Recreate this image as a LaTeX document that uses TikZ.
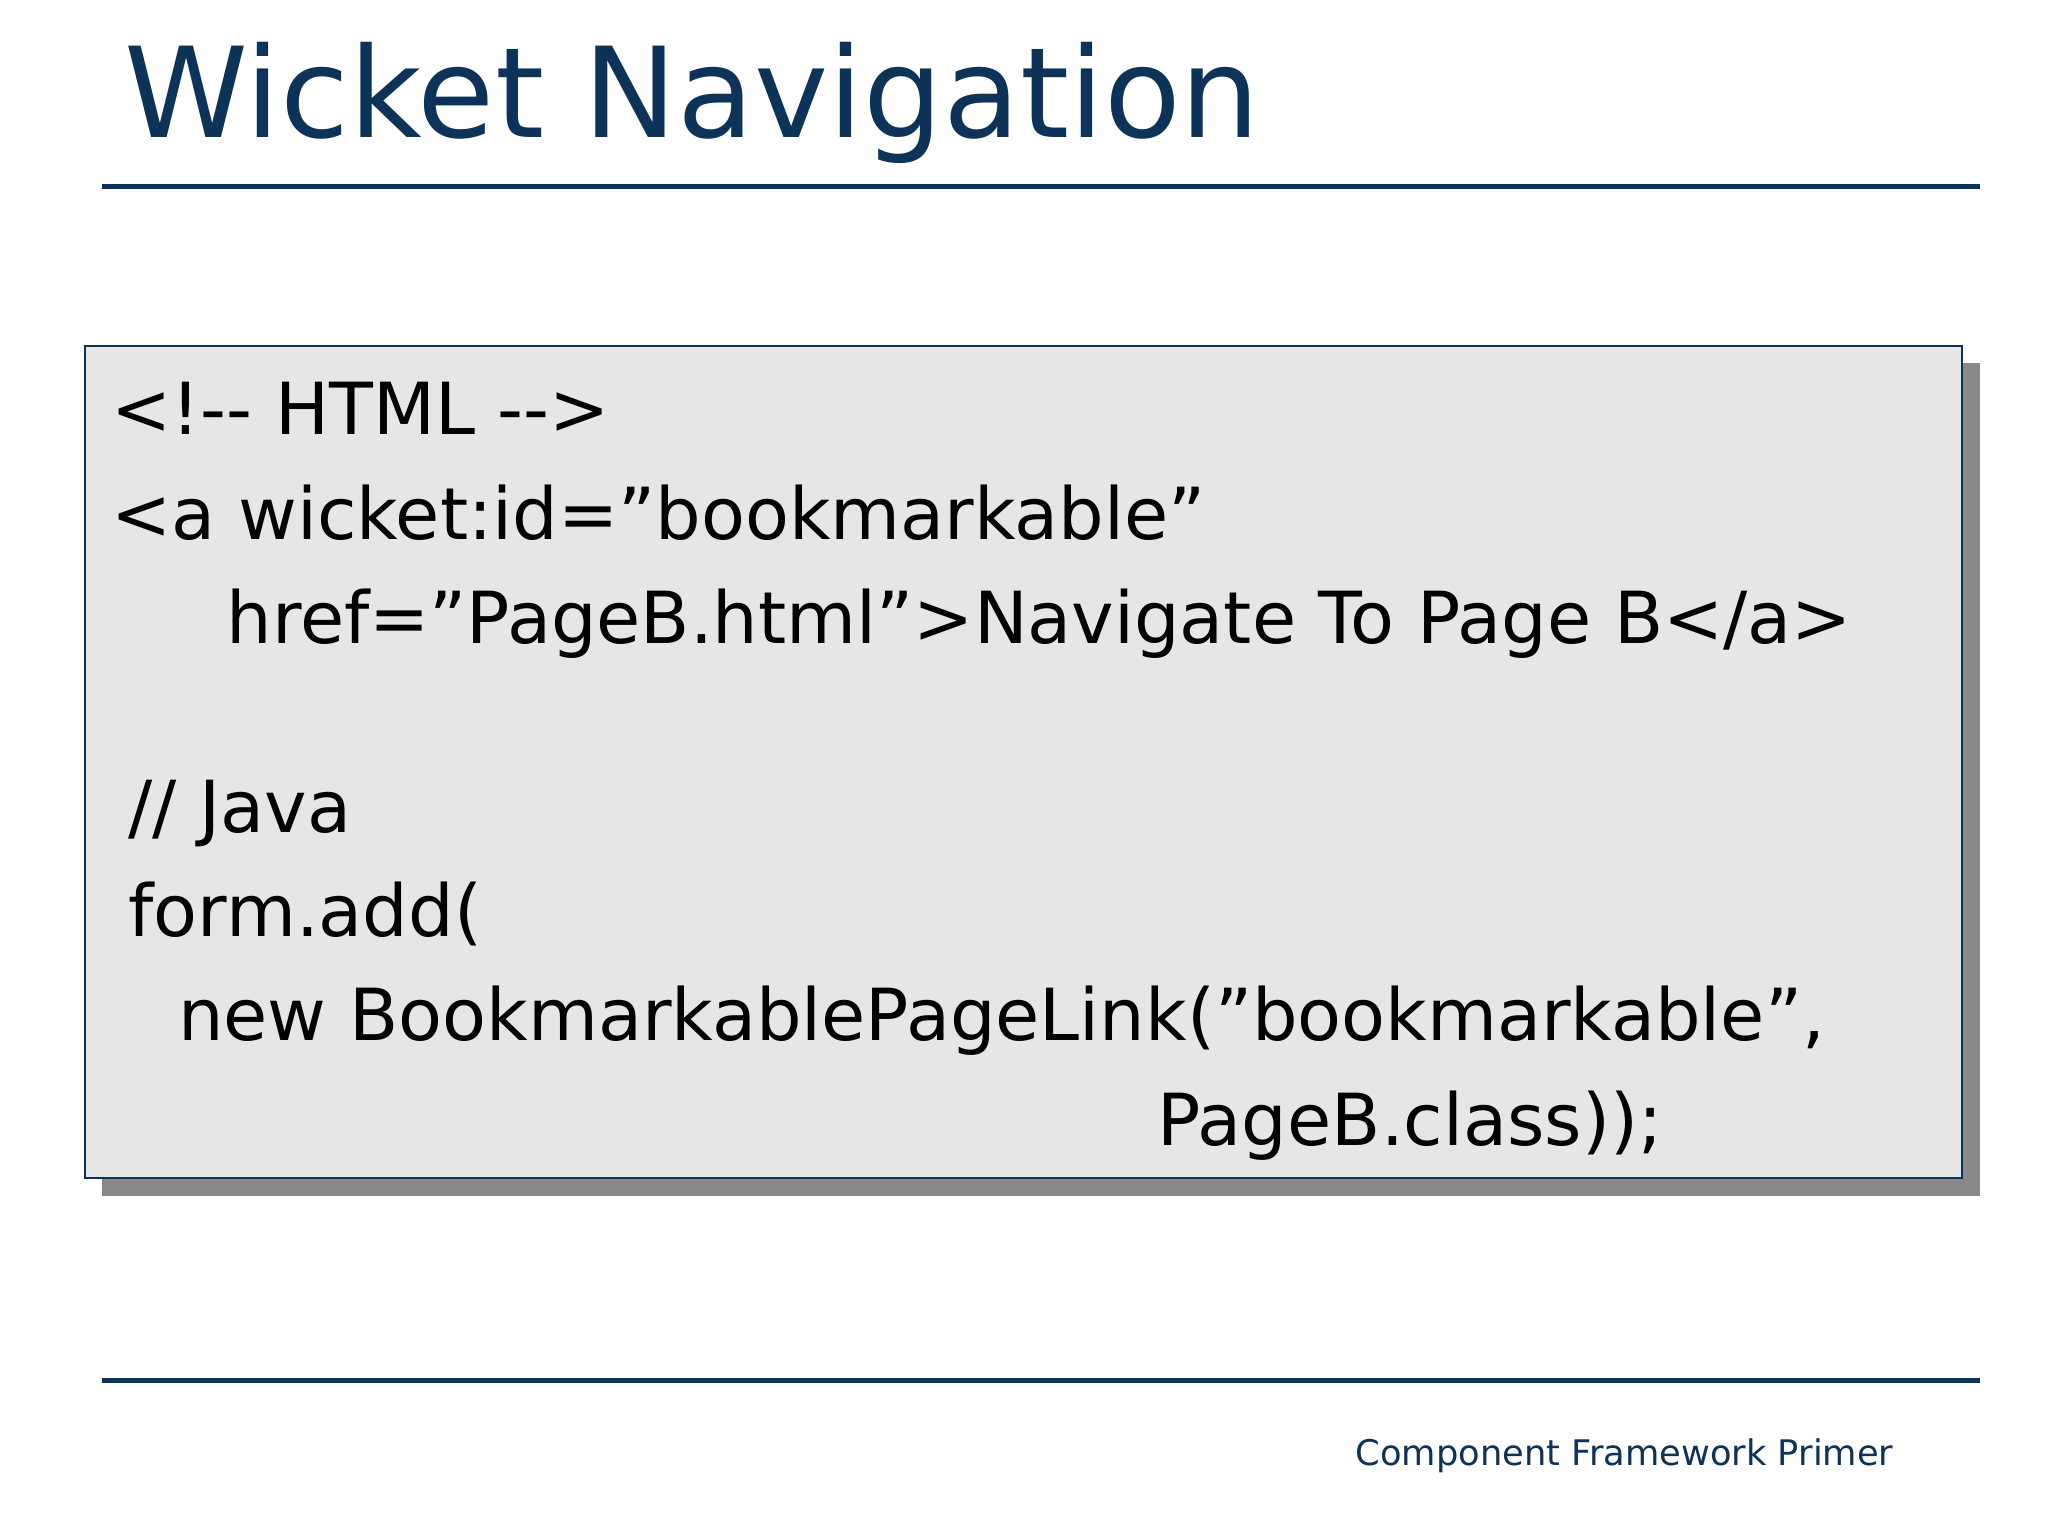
\documentclass[tikz,border=0pt]{standalone}
\usepackage{fontspec}
\setmainfont{DejaVu Sans}
\definecolor{navy}{HTML}{0D3358}
\definecolor{boxfill}{HTML}{E5E7E6}
\definecolor{shadow}{HTML}{888888}
\tikzset{code/.style={anchor=base west,inner sep=0pt,font=\fontsize{27.5pt}{33pt}\selectfont},
rule/.style={navy,line width=2pt}}
\begin{document}
\begin{tikzpicture}[x=0.5pt,y=-0.5pt]
\useasboundingbox (0,0) rectangle (1568,1176);
\fill[white] (0,0) rectangle (1568,1176);
\node[anchor=base west,inner sep=0pt,text=navy,font=\fontsize{48pt}{56pt}\selectfont] (title) at (95,105) {Wicket Navigation};
\draw[rule] (78,143) -- (1516,143);
\fill[shadow] (78,278) rectangle (1516,916);
\draw[navy,fill=boxfill,line width=0.6pt] (65,265) rectangle (1502,902);
\node[code] (l1) at (85,333) {<!-{}- HTML -{}->};
\node[code] (l2) at (85,413) {<a wicket:id="bookmarkable"};
\node[code] (l3) at (173,493) {href="PageB.html">Navigate To Page B</a>};
\node[code] (l4) at (98,637) {// Java};
\node[code] (l5) at (98,717) {form.add(};
\node[code] (l6) at (136,797) {new BookmarkablePageLink("bookmarkable",};
\node[code] (l7) at (886,877) {PageB.class));};
\draw[rule] (78,1057) -- (1516,1057);
\node[anchor=base east,inner sep=0pt,text=navy,font=\fontsize{13.5pt}{16pt}\selectfont] (foot) at (1450,1122) {Component Framework Primer};
\end{tikzpicture}
\end{document}
